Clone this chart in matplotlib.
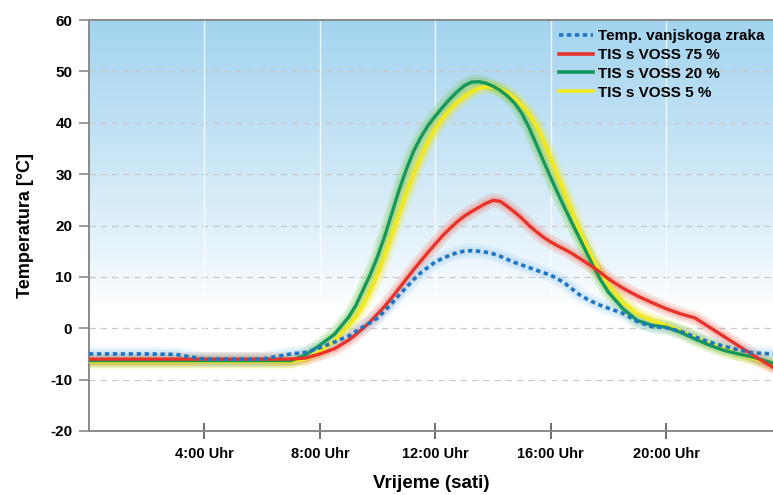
import numpy as np
import matplotlib
matplotlib.use("Agg")
import matplotlib.pyplot as plt
from matplotlib.lines import Line2D

plt.rcParams['font.family'] = ['Liberation Sans', 'DejaVu Sans']

hours = [0, 1, 2, 3, 4, 5, 6, 7, 7.5, 8, 8.5,
         9, 9.25, 9.5, 9.75, 10, 10.25, 10.5, 10.75, 11, 11.25, 11.5, 11.75,
         12, 12.25, 12.5, 12.75, 13, 13.25, 13.5, 13.75, 14, 14.25, 14.5, 14.75,
         15, 15.25, 15.5, 15.75, 16, 16.25, 16.5, 16.75, 17, 17.25, 17.5, 17.75, 18,
         18.5, 19, 19.5, 20, 20.5, 21, 21.5, 22, 22.5, 23, 23.7]

outdoor = [-5.0, -5.0, -5.0, -5.1, -6.0, -6.0, -6.0, -5.0, -4.7, -3.8, -2.7,
           -1.5, -0.6, 0.3, 1.1, 2.0, 3.4, 4.9, 6.5, 8.0, 9.5, 10.8, 11.9,
           12.9, 13.6, 14.2, 14.7, 15.0, 15.1, 15.0, 14.8, 14.5, 14.0, 13.4, 12.8,
           12.3, 11.8, 11.3, 10.8, 10.3, 9.6, 8.7, 7.6, 6.5, 5.7, 5.0, 4.4, 3.9,
           2.9, 1.3, 0.3, 0.1, -0.6, -1.7, -2.7, -3.5, -4.2, -4.8, -5.0]

voss75 = [-6.0, -6.0, -6.0, -6.0, -6.0, -6.0, -6.0, -6.0, -5.8, -5.0, -4.0,
          -2.3, -1.2, 0.0, 1.3, 2.8, 4.3, 6.0, 7.8, 9.6, 11.4, 13.1, 14.8,
          16.4, 18.0, 19.4, 20.7, 21.8, 22.7, 23.5, 24.3, 24.9, 24.7, 23.7, 22.6,
          21.4, 20.0, 18.8, 17.7, 16.8, 16.0, 15.3, 14.5, 13.6, 12.7, 11.8, 10.7, 9.6,
          7.8, 6.3, 5.0, 3.8, 2.8, 2.0, 0.2, -1.6, -3.4, -5.2, -7.6]

voss20 = [-6.3, -6.3, -6.3, -6.3, -6.3, -6.3, -6.3, -6.3, -5.2, -3.3, -1.2,
          2.2, 4.5, 7.5, 10.5, 14.0, 18.0, 22.5, 27.0, 31.0, 34.5, 37.2, 39.5,
          41.3, 43.0, 44.6, 46.0, 47.2, 47.9, 48.0, 47.7, 47.1, 46.3, 45.2, 43.8,
          41.8, 39.0, 35.8, 32.5, 29.3, 26.2, 23.2, 20.3, 17.5, 14.6, 11.8, 9.2, 7.0,
          3.8, 1.5, 0.6, 0.2, -0.8, -2.1, -3.3, -4.3, -5.0, -5.6, -6.8]

voss5 = [-6.5, -6.5, -6.5, -6.5, -6.5, -6.5, -6.5, -6.5, -6.0, -4.5, -2.5,
         0.5, 2.3, 4.5, 7.3, 10.5, 14.2, 18.2, 22.3, 26.3, 30.0, 33.3, 36.3,
         38.8, 40.8, 42.5, 43.9, 45.0, 46.0, 46.7, 47.0, 46.9, 46.5, 45.8, 44.8,
         43.4, 41.7, 39.4, 36.5, 33.0, 29.5, 26.0, 22.5, 19.0, 15.8, 13.0, 10.5, 8.5,
         5.0, 2.8, 1.5, 0.6, -0.5, -1.8, -3.0, -4.0, -5.0, -5.8, -7.0]

labels = ['Temp. vanjskoga zraka', 'TIS s VOSS 75 %', 'TIS s VOSS 20 %', 'TIS s VOSS 5 %']
xticks = [4, 8, 12, 16, 20]
xticklabels = ['4:00 Uhr', '8:00 Uhr', '12:00 Uhr', '16:00 Uhr', '20:00 Uhr']
yticks = [-20, -10, 0, 10, 20, 30, 40, 50, 60]

c_blue = '#1f74c4'
c_red = '#e8322a'
c_green = '#15995a'
c_yellow = '#f2e81e'

fig = plt.figure(figsize=(7.73, 4.95), dpi=100)
ax = fig.add_axes([89/773, 1 - 431/495, (773 - 89)/773, (431 - 20)/495])

# background gradient
n = 256
f = np.linspace(0, 1, n)[:, None]
s = np.clip((f - 0.30) / 0.70, 0, 1) ** 0.85
top = np.array([0.64, 0.83, 0.94])
img = (1 - s)[..., None] * np.ones(3) + s[..., None] * top
img = np.repeat(img, 2, axis=1)
ax.imshow(img, extent=[0, 1, 0, 1], transform=ax.transAxes, origin='lower',
          aspect='auto', zorder=0, interpolation='bilinear')

ax.set_xlim(0, 23.7)
ax.set_ylim(-20, 60)

# grid
for yv in [-10, 0, 10, 20, 30, 40, 50]:
    ax.axhline(yv, color='#c8c8c8', lw=0.9, ls=(0, (5, 4)), zorder=1)
for xv in xticks:
    ax.axvline(xv, color='white', lw=1.0, alpha=0.8, zorder=1)

# halos
for data, col in [(voss5, c_yellow), (voss20, '#7cc85a'), (voss75, '#f08070'), (outdoor, '#a8d4f2')]:
    ax.plot(hours, data, color=col, lw=10, alpha=0.22, solid_capstyle='round',
            solid_joinstyle='round', zorder=2)
    ax.plot(hours, data, color=col, lw=6, alpha=0.3, solid_capstyle='round',
            solid_joinstyle='round', zorder=2)

ax.plot(hours, voss5, color=c_yellow, lw=2.6, zorder=3, solid_joinstyle='round')
ax.plot(hours, voss20, color=c_green, lw=2.4, zorder=4, solid_joinstyle='round')
ax.plot(hours, voss75, color=c_red, lw=2.4, zorder=5, solid_joinstyle='round')
ax.plot(hours, outdoor, color=c_blue, lw=2.6, ls=(0, (1.2, 1.0)),
        dash_capstyle='butt', zorder=6)

for side in ['left', 'bottom', 'top']:
    ax.spines[side].set_color('#8a8a8a')
    ax.spines[side].set_linewidth(1.4)
ax.spines['right'].set_visible(False)

ax.set_xticks(xticks)
ax.set_xticklabels(xticklabels, fontweight='bold', fontsize=10.5)
ax.set_yticks(yticks)
ax.set_yticklabels([str(v) for v in yticks], fontweight='bold', fontsize=11)
ax.tick_params(axis='x', direction='inout', length=11, width=1.2, color='#555555', pad=6)
ax.tick_params(axis='y', direction='out', length=7, width=1.2, color='#8a8a8a', pad=5)

ax.set_xlabel('Vrijeme (sati)', fontweight='bold', fontsize=13.5, labelpad=10)
ax.set_ylabel('Temperatura [°C]', fontweight='bold', fontsize=13, labelpad=12)

handles = [
    Line2D([], [], color=c_blue, lw=2.6, ls=(0, (1.2, 1.0)), dash_capstyle='butt'),
    Line2D([], [], color=c_red, lw=2.6),
    Line2D([], [], color=c_green, lw=2.6),
    Line2D([], [], color=c_yellow, lw=2.6),
]
leg = ax.legend(handles, labels, loc='upper left',
                bbox_to_anchor=((559 - 89) / 684, (431 - 29) / 411),
                frameon=False, borderpad=0, borderaxespad=0, handlelength=2.2,
                handletextpad=0.35, labelspacing=0.32,
                prop={'weight': 'bold', 'size': 11})

fig.savefig('out.png', dpi=100)
